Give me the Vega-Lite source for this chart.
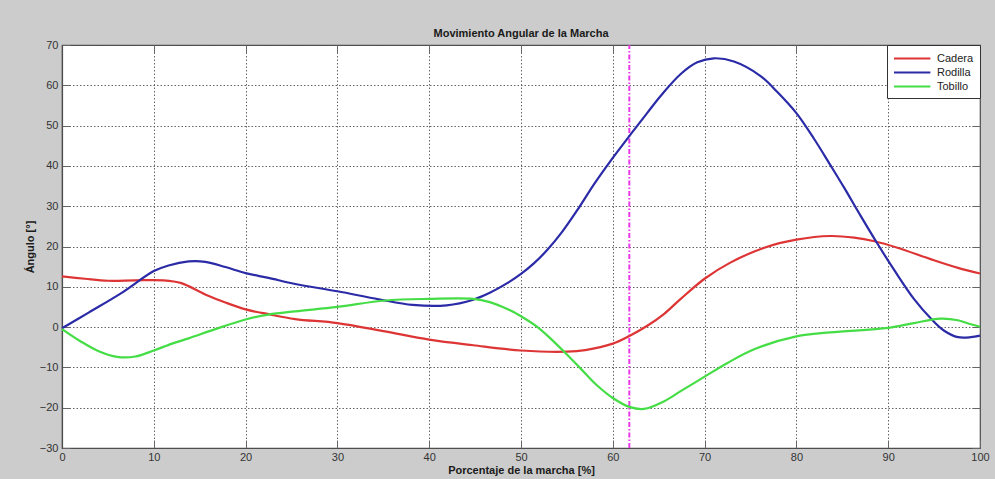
{
  "$schema": "https://vega.github.io/schema/vega-lite/v6.json",
  "width": 918,
  "height": 403,
  "autosize": {"type": "none"},
  "padding": {"left": 62, "top": 45, "right": 15, "bottom": 31},
  "background": "#cccccc",
  "title": {"text": "Movimiento Angular de la Marcha", "anchor": "middle", "font": "Liberation Sans", "fontSize": 11, "fontWeight": "bold", "color": "#1a1a1a", "offset": 0},
  "config": {
    "view": {"fill": "white", "stroke": "#4d4d4d", "strokeWidth": 1.2},
    "axis": {"labelFont": "Liberation Sans", "labelFontSize": 11, "labelColor": "#333333", "titleFont": "Liberation Sans", "titleFontSize": 11, "titleFontWeight": "bold", "titleColor": "#1a1a1a", "domainColor": "#4d4d4d", "domainWidth": 1.2, "tickColor": "#666666", "tickWidth": 1, "gridColor": "#555555", "gridWidth": 1, "gridDash": [1.5, 2], "gridOpacity": 0.9}
  },
  "datasets": {
    "curves": [
      {"joint": "Cadera", "pct": 0, "angle": 12.6},
      {"joint": "Cadera", "pct": 2.5, "angle": 12.0},
      {"joint": "Cadera", "pct": 5, "angle": 11.5},
      {"joint": "Cadera", "pct": 8, "angle": 11.6},
      {"joint": "Cadera", "pct": 11, "angle": 11.6},
      {"joint": "Cadera", "pct": 13, "angle": 10.9},
      {"joint": "Cadera", "pct": 15.6, "angle": 8.1},
      {"joint": "Cadera", "pct": 17.8, "angle": 6.1},
      {"joint": "Cadera", "pct": 20, "angle": 4.4},
      {"joint": "Cadera", "pct": 22.5, "angle": 3.2},
      {"joint": "Cadera", "pct": 25.4, "angle": 2.0},
      {"joint": "Cadera", "pct": 30, "angle": 1.0},
      {"joint": "Cadera", "pct": 35, "angle": -1.0},
      {"joint": "Cadera", "pct": 40, "angle": -3.1},
      {"joint": "Cadera", "pct": 44.8, "angle": -4.5},
      {"joint": "Cadera", "pct": 50, "angle": -5.8},
      {"joint": "Cadera", "pct": 55, "angle": -6.1},
      {"joint": "Cadera", "pct": 57, "angle": -5.7},
      {"joint": "Cadera", "pct": 60, "angle": -4.1},
      {"joint": "Cadera", "pct": 61.8, "angle": -2.2},
      {"joint": "Cadera", "pct": 63.8, "angle": 0.4},
      {"joint": "Cadera", "pct": 65.6, "angle": 3.3},
      {"joint": "Cadera", "pct": 67.4, "angle": 7.0},
      {"joint": "Cadera", "pct": 70, "angle": 12.0},
      {"joint": "Cadera", "pct": 72.8, "angle": 16.0},
      {"joint": "Cadera", "pct": 76.5, "angle": 19.7},
      {"joint": "Cadera", "pct": 80, "angle": 21.7},
      {"joint": "Cadera", "pct": 83.7, "angle": 22.6},
      {"joint": "Cadera", "pct": 86.3, "angle": 22.2},
      {"joint": "Cadera", "pct": 88.5, "angle": 21.3},
      {"joint": "Cadera", "pct": 91, "angle": 19.7},
      {"joint": "Cadera", "pct": 94.7, "angle": 16.8},
      {"joint": "Cadera", "pct": 97.6, "angle": 14.7},
      {"joint": "Cadera", "pct": 100, "angle": 13.3},
      {"joint": "Rodilla", "pct": 0, "angle": -0.3},
      {"joint": "Rodilla", "pct": 2.9, "angle": 3.6},
      {"joint": "Rodilla", "pct": 6.5, "angle": 8.5},
      {"joint": "Rodilla", "pct": 10, "angle": 13.9},
      {"joint": "Rodilla", "pct": 11.6, "angle": 15.3},
      {"joint": "Rodilla", "pct": 13.8, "angle": 16.3},
      {"joint": "Rodilla", "pct": 15.6, "angle": 16.2},
      {"joint": "Rodilla", "pct": 17.8, "angle": 14.9},
      {"joint": "Rodilla", "pct": 20, "angle": 13.4},
      {"joint": "Rodilla", "pct": 22.5, "angle": 12.2},
      {"joint": "Rodilla", "pct": 25.4, "angle": 10.7},
      {"joint": "Rodilla", "pct": 30, "angle": 8.9},
      {"joint": "Rodilla", "pct": 34.5, "angle": 6.9},
      {"joint": "Rodilla", "pct": 38.2, "angle": 5.5},
      {"joint": "Rodilla", "pct": 41.9, "angle": 5.4},
      {"joint": "Rodilla", "pct": 44.8, "angle": 6.8},
      {"joint": "Rodilla", "pct": 46.6, "angle": 8.5},
      {"joint": "Rodilla", "pct": 48.5, "angle": 10.9},
      {"joint": "Rodilla", "pct": 50, "angle": 13.2},
      {"joint": "Rodilla", "pct": 51.4, "angle": 15.8},
      {"joint": "Rodilla", "pct": 52.8, "angle": 19.0},
      {"joint": "Rodilla", "pct": 54.5, "angle": 23.7},
      {"joint": "Rodilla", "pct": 56.3, "angle": 29.6},
      {"joint": "Rodilla", "pct": 58, "angle": 35.6},
      {"joint": "Rodilla", "pct": 60, "angle": 42.0},
      {"joint": "Rodilla", "pct": 62, "angle": 48.0},
      {"joint": "Rodilla", "pct": 63.8, "angle": 53.3},
      {"joint": "Rodilla", "pct": 65.3, "angle": 57.6},
      {"joint": "Rodilla", "pct": 67.4, "angle": 62.8},
      {"joint": "Rodilla", "pct": 69.2, "angle": 65.7},
      {"joint": "Rodilla", "pct": 71, "angle": 66.7},
      {"joint": "Rodilla", "pct": 73.2, "angle": 65.9},
      {"joint": "Rodilla", "pct": 76.1, "angle": 62.3},
      {"joint": "Rodilla", "pct": 77.9, "angle": 58.4},
      {"joint": "Rodilla", "pct": 80, "angle": 53.1},
      {"joint": "Rodilla", "pct": 81.9, "angle": 46.8},
      {"joint": "Rodilla", "pct": 83.7, "angle": 40.2},
      {"joint": "Rodilla", "pct": 85.2, "angle": 34.6},
      {"joint": "Rodilla", "pct": 87, "angle": 27.6},
      {"joint": "Rodilla", "pct": 88.8, "angle": 20.8},
      {"joint": "Rodilla", "pct": 90.7, "angle": 14.0},
      {"joint": "Rodilla", "pct": 92.8, "angle": 7.0},
      {"joint": "Rodilla", "pct": 94.7, "angle": 2.0},
      {"joint": "Rodilla", "pct": 96.1, "angle": -0.9},
      {"joint": "Rodilla", "pct": 97.6, "angle": -2.5},
      {"joint": "Rodilla", "pct": 99, "angle": -2.5},
      {"joint": "Rodilla", "pct": 100, "angle": -2.1},
      {"joint": "Tobillo", "pct": 0, "angle": -0.5},
      {"joint": "Tobillo", "pct": 2, "angle": -3.5},
      {"joint": "Tobillo", "pct": 4, "angle": -6.0},
      {"joint": "Tobillo", "pct": 6, "angle": -7.4},
      {"joint": "Tobillo", "pct": 8, "angle": -7.3},
      {"joint": "Tobillo", "pct": 10, "angle": -5.8},
      {"joint": "Tobillo", "pct": 12, "angle": -4.1},
      {"joint": "Tobillo", "pct": 13.8, "angle": -2.8},
      {"joint": "Tobillo", "pct": 16.7, "angle": -0.5},
      {"joint": "Tobillo", "pct": 20, "angle": 1.9},
      {"joint": "Tobillo", "pct": 22.5, "angle": 3.1},
      {"joint": "Tobillo", "pct": 25.4, "angle": 3.9},
      {"joint": "Tobillo", "pct": 30, "angle": 5.0},
      {"joint": "Tobillo", "pct": 35.2, "angle": 6.6},
      {"joint": "Tobillo", "pct": 40, "angle": 7.0},
      {"joint": "Tobillo", "pct": 44.8, "angle": 7.0},
      {"joint": "Tobillo", "pct": 46.6, "angle": 6.2},
      {"joint": "Tobillo", "pct": 48.5, "angle": 4.5},
      {"joint": "Tobillo", "pct": 50, "angle": 2.7},
      {"joint": "Tobillo", "pct": 51.8, "angle": 0.0},
      {"joint": "Tobillo", "pct": 53.2, "angle": -2.8},
      {"joint": "Tobillo", "pct": 55, "angle": -6.8},
      {"joint": "Tobillo", "pct": 56.5, "angle": -10.3},
      {"joint": "Tobillo", "pct": 58.3, "angle": -14.5},
      {"joint": "Tobillo", "pct": 60, "angle": -17.6},
      {"joint": "Tobillo", "pct": 61.8, "angle": -19.8},
      {"joint": "Tobillo", "pct": 63.4, "angle": -20.3},
      {"joint": "Tobillo", "pct": 65.6, "angle": -18.4},
      {"joint": "Tobillo", "pct": 67.4, "angle": -15.9},
      {"joint": "Tobillo", "pct": 70, "angle": -12.3},
      {"joint": "Tobillo", "pct": 72.5, "angle": -8.9},
      {"joint": "Tobillo", "pct": 75.4, "angle": -5.5},
      {"joint": "Tobillo", "pct": 80, "angle": -2.3},
      {"joint": "Tobillo", "pct": 83.7, "angle": -1.3},
      {"joint": "Tobillo", "pct": 90, "angle": -0.2},
      {"joint": "Tobillo", "pct": 92.8, "angle": 1.0},
      {"joint": "Tobillo", "pct": 95.7, "angle": 2.1},
      {"joint": "Tobillo", "pct": 97.6, "angle": 1.7},
      {"joint": "Tobillo", "pct": 99, "angle": 0.7},
      {"joint": "Tobillo", "pct": 100, "angle": 0.1}
    ],
    "marker": [{"pct": 61.8, "y0": -30, "y1": 70}]
  },
  "layer": [
    {
      "data": {"name": "marker"},
      "mark": {"type": "rule", "color": "#e838e8", "strokeWidth": 2, "strokeDash": [5, 2, 1.5, 2]},
      "encoding": {
        "x": {"field": "pct", "type": "quantitative", "scale": {"domain": [0, 100], "nice": false},
              "axis": {"orient": "top", "values": [0, 10, 20, 30, 40, 50, 60, 70, 80, 90, 100], "labels": false, "grid": false, "title": null, "tickSize": -8, "domain": false}},
        "y": {"field": "y0", "type": "quantitative", "scale": {"domain": [-30, 70], "nice": false},
              "axis": {"orient": "right", "values": [-30, -20, -10, 0, 10, 20, 30, 40, 50, 60, 70], "labels": false, "grid": false, "title": null, "tickSize": -8, "domain": false}},
        "y2": {"field": "y1"}
      }
    },
    {
      "data": {"name": "curves"},
      "mark": {"type": "line", "interpolate": "catmull-rom", "strokeWidth": 2.2},
      "encoding": {
        "x": {"field": "pct", "type": "quantitative", "scale": {"domain": [0, 100], "nice": false},
              "axis": {"orient": "bottom", "values": [0, 10, 20, 30, 40, 50, 60, 70, 80, 90, 100], "grid": true, "tickSize": -8, "labelPadding": 11.5, "labelFlush": false, "title": "Porcentaje de la marcha [%]", "titleX": 459, "titleY": 22, "titleBaseline": "middle", "titleAnchor": "middle"}},
        "y": {"field": "angle", "type": "quantitative", "scale": {"domain": [-30, 70], "nice": false},
              "axis": {"orient": "left", "values": [-30, -20, -10, 0, 10, 20, 30, 40, 50, 60, 70], "grid": true, "tickSize": -8, "labelPadding": 12, "labelFlush": false, "title": "Ángulo [°]", "titleX": -32, "titleY": 201.5, "titleBaseline": "middle", "titleAngle": -90}},
        "color": {"field": "joint", "type": "nominal",
                  "scale": {"domain": ["Cadera", "Rodilla", "Tobillo"], "range": ["#dd3535", "#2b2ba8", "#45dd45"]},
                  "legend": {"orient": "none", "legendX": 825, "legendY": 0, "title": null, "fillColor": "white", "strokeColor": "#333333", "padding": 6, "symbolType": "M-2.8,0H2.8", "symbolSize": 169, "symbolStrokeWidth": 2, "symbolOffset": 11.7, "labelOffset": 17.3, "labelFont": "Liberation Sans", "labelFontSize": 11, "labelColor": "#222222", "rowPadding": 1}}
      }
    }
  ],
  "resolve": {"axis": {"x": "independent", "y": "independent"}}
}
